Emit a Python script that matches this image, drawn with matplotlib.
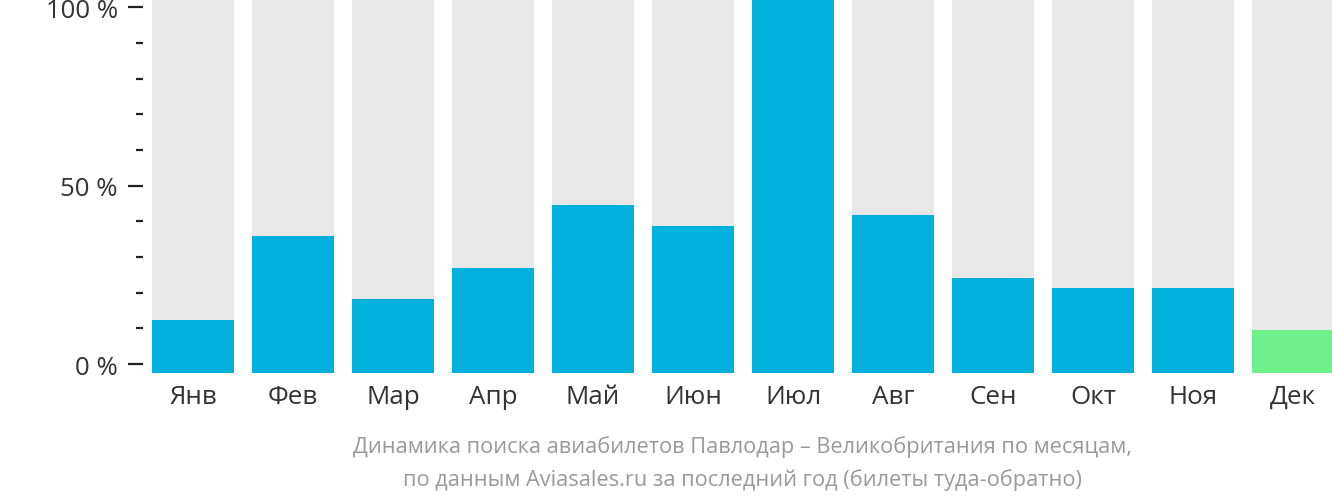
import numpy as np
import matplotlib.pyplot as plt
from matplotlib.ticker import MultipleLocator

plt.rcParams['font.family'] = ['Open Sans', 'DejaVu Sans']

months = ['Янв', 'Фев', 'Мар', 'Апр', 'Май', 'Июн', 'Июл', 'Авг', 'Сен', 'Окт', 'Ноя', 'Дек']
values = [12.3, 35.9, 18.2, 26.9, 44.5, 38.7, 102.3, 41.7, 24.1, 21.3, 21.3, 9.5]
highlight = 'Дек'

caption = ("Динамика поиска авиабилетов Павлодар – Великобритания по месяцам,\n"
           "по данным Aviasales.ru за последний год (билеты туда-обратно)")

ymin, ymax = -2.5, 102.3
blue = '#00b0dd'
green = '#6ef18a'
grey = '#e8e8e8'

fig = plt.figure(figsize=(13.32, 5.02), dpi=100)
ax = fig.add_axes([152 / 1332, 128 / 502, 1180 / 1332, 374 / 502])

x = np.arange(len(months))
colors = [green if m == highlight else blue for m in months]
ax.bar(x, ymax - ymin, bottom=ymin, width=0.82, color=grey, zorder=1)
ax.bar(x, np.array(values) - ymin, bottom=ymin, width=0.82, color=colors, zorder=2)

ax.set_xlim(-0.41, 11.39)
ax.set_ylim(ymin, ymax)

for s in ax.spines.values():
    s.set_visible(False)
ax.spines['left'].set_position(('outward', 6.5))

ax.yaxis.set_minor_locator(MultipleLocator(10))
ax.set_yticks([0, 50, 100])
ax.set_yticklabels(['0 %', '50 %', '100 %'])
ax.tick_params(axis='y', which='major', length=11, width=1.6, color='#222222',
               labelsize=18.5, labelcolor='#333333', pad=7)
ax.tick_params(axis='y', which='minor', length=5, width=1.6, color='#222222')

ax.set_xticks(x)
ax.set_xticklabels(months)
ax.tick_params(axis='x', length=0, labelsize=18.7, labelcolor='#333333', pad=8)

fig.text(742 / 1332, 38.5 / 502, caption, ha='center', va='center',
         fontsize=15.7, color='#999999', linespacing=1.65)

fig.savefig('out.png', dpi=100)
